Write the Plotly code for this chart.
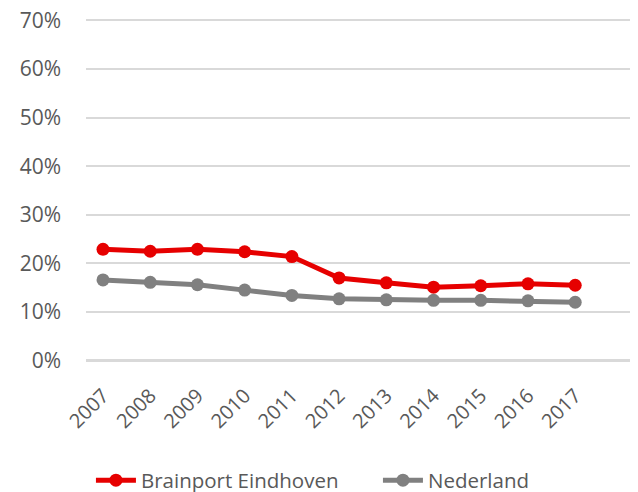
import plotly.graph_objects as go

years = ["2007", "2008", "2009", "2010", "2011", "2012", "2013", "2014", "2015", "2016", "2017"]
brainport = [22.9, 22.5, 22.9, 22.4, 21.4, 17.0, 16.0, 15.1, 15.4, 15.8, 15.5]
nederland = [16.6, 16.1, 15.6, 14.5, 13.4, 12.7, 12.5, 12.4, 12.4, 12.3, 12.0]
y_ticks = [0, 10, 20, 30, 40, 50, 60, 70]
y_labels = ["0%", "10%", "20%", "30%", "40%", "50%", "60%", "70%"]

idx = list(range(len(years)))
FONT = "Open Sans"
TXT = "#595959"

fig = go.Figure()
fig.add_trace(go.Scatter(
    x=idx, y=brainport, name="Brainport Eindhoven", mode="lines+markers",
    line=dict(color="#e60000", width=5), marker=dict(color="#e60000", size=13),
))
fig.add_trace(go.Scatter(
    x=idx, y=nederland, name="Nederland", mode="lines+markers",
    line=dict(color="#808080", width=5), marker=dict(color="#808080", size=13),
))

# page has an 8px body margin, so the figure is 630x484 and margins shifted by 8px
fig.update_layout(
    width=630, height=484,
    margin=dict(l=78, r=0, t=10, b=129, autoexpand=False),
    paper_bgcolor="white", plot_bgcolor="white",
    font=dict(family=FONT, color=TXT, size=20),
    showlegend=True,
    legend=dict(
        orientation="h", x=-0.0001, xanchor="left", y=-0.34, yanchor="middle",
        font=dict(family=FONT, size=20.5, color=TXT), itemwidth=40,
        entrywidth=227, entrywidthmode="pixels", indentation=5,
        traceorder="normal",
    ),
)
fig.update_xaxes(
    range=[-0.36, 11.33], tickmode="array", tickvals=idx, ticktext=years,
    tickangle=-45, showgrid=False, zeroline=False, showline=False, ticks="",
    ticklabelstandoff=16, automargin=False,
    tickfont=dict(family=FONT, size=20, color=TXT),
)
fig.update_yaxes(
    range=[-0.5, 70.5], tickmode="array", tickvals=y_ticks, ticktext=y_labels,
    showgrid=True, gridcolor="#d9d9d9", gridwidth=1.5,
    zeroline=True, zerolinecolor="#d9d9d9", zerolinewidth=3,
    showline=False, ticks="", ticklabelstandoff=24, automargin=False,
    ticklabeloverflow="allow",
    tickfont=dict(family=FONT, size=21, color=TXT),
)

fig.write_html("out.html")
